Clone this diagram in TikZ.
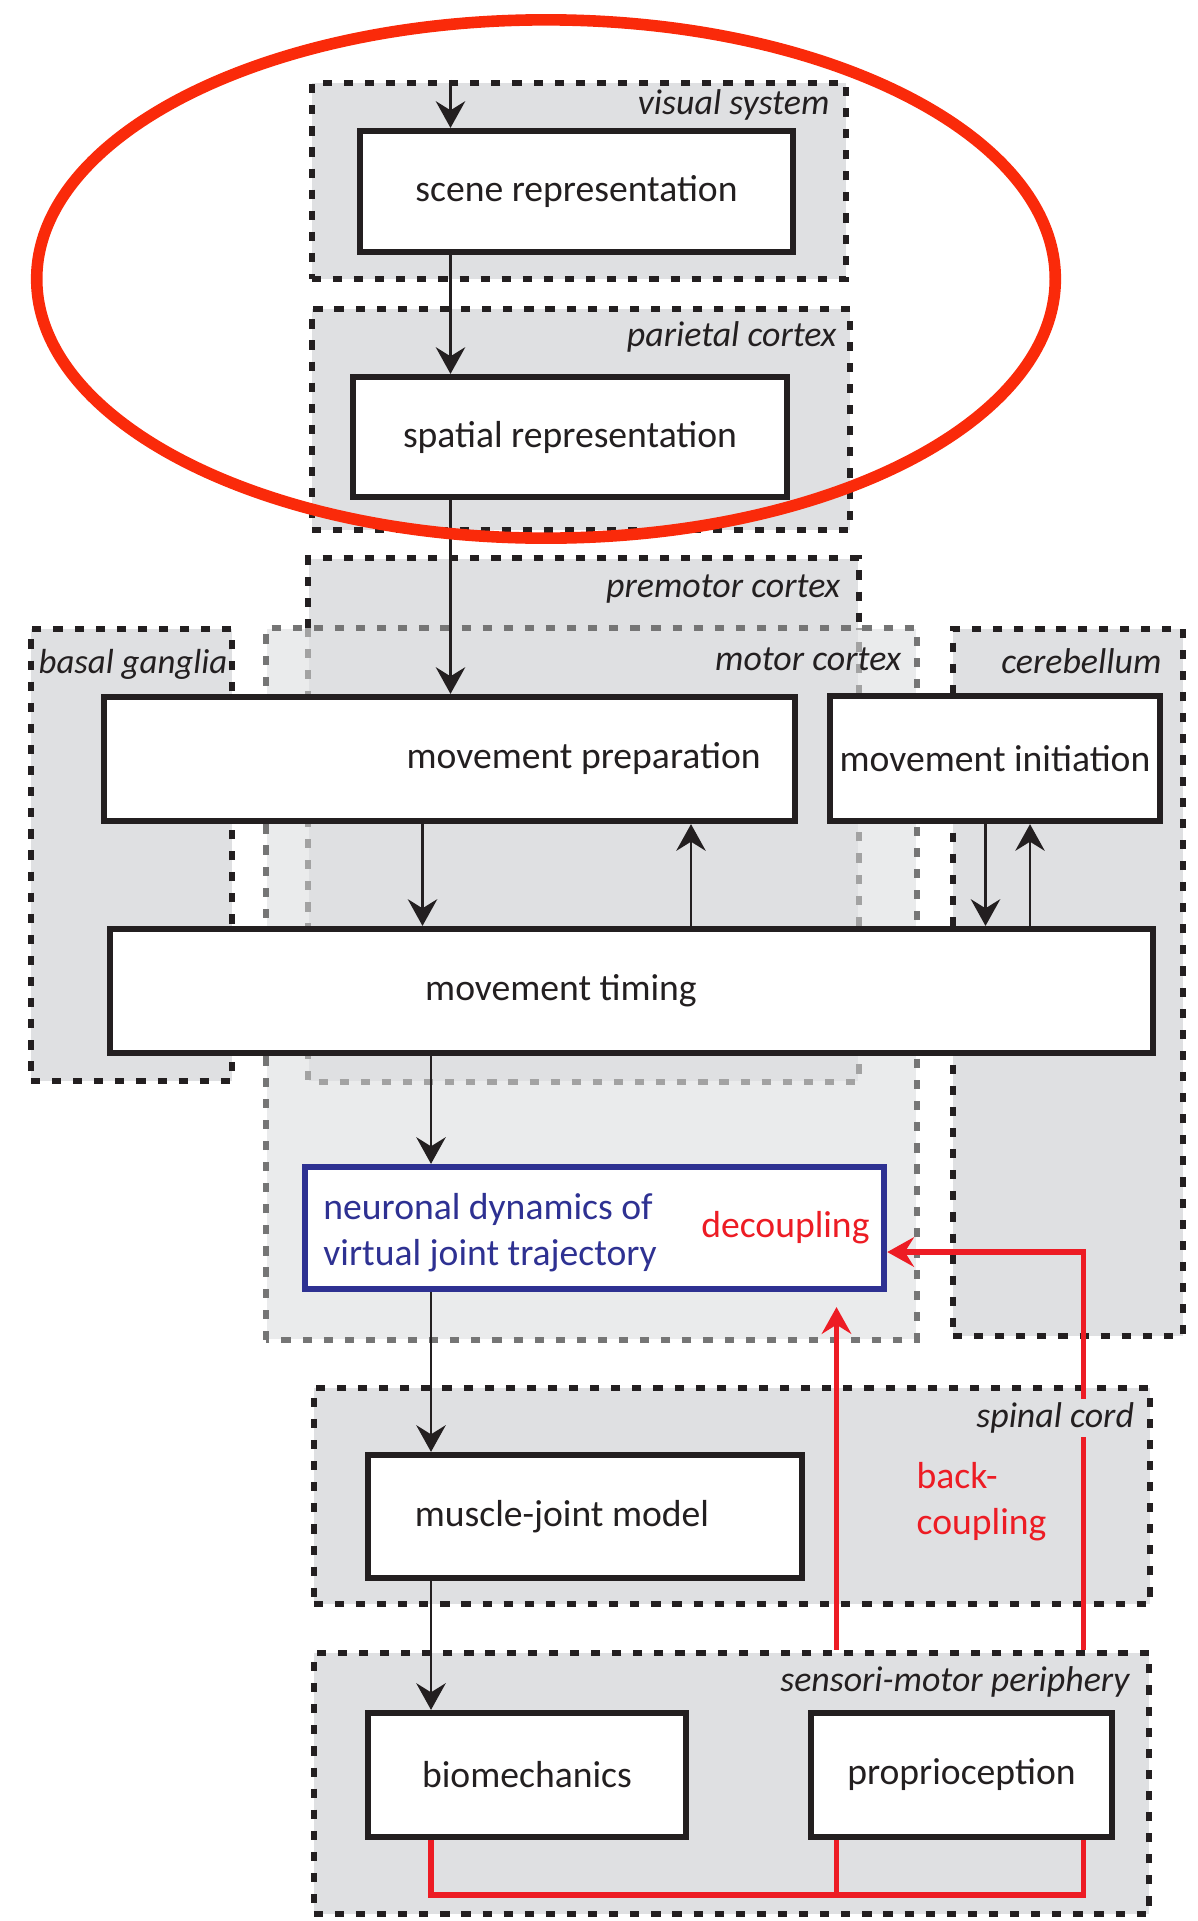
\documentclass[tikz,border=0pt]{standalone}
\usepackage{fontspec}
\setmainfont{Carlito}
\usetikzlibrary{arrows.meta,positioning,calc}
\definecolor{ink}{HTML}{231F20}
\definecolor{regionfill}{HTML}{DFE0E2}
\definecolor{motorfill}{HTML}{EAEBEC}
\definecolor{motorline}{HTML}{757575}
\definecolor{innerline}{HTML}{A2A2A2}
\definecolor{navy}{HTML}{2E3192}
\definecolor{redline}{HTML}{ED1C24}
\definecolor{sketch}{HTML}{FA2A0A}
\tikzset{
  >={Stealth[length=7.6pt,width=8.4pt,inset=2.6pt]},
  flow/.style={->,draw=ink,line width=0.6pt},
  back/.style={draw=redline,line width=1.55pt},
  backarrow/.style={back,->},
  regionbox/.style={draw=ink,fill=regionfill,line width=1.7pt,dash pattern=on 2.6pt off 3.4pt,inner sep=0pt},
  regionline/.style={draw=ink,line width=1.7pt,dash pattern=on 2.6pt off 3.4pt},
  regionlabel/.style={font=\itshape\fontsize{10.2}{12}\selectfont,text=ink,inner sep=0pt},
  block/.style={draw=ink,fill=white,line width=1.75pt,inner sep=0pt,font=\fontsize{10.7}{13.1}\selectfont,text=ink},
  boxtext/.style={font=\fontsize{10.7}{13.1}\selectfont,text=ink,inner sep=0pt},
  redtext/.style={font=\fontsize{10.7}{13.1}\selectfont,text=redline,inner sep=0pt,align=left},
  redmark/.style={draw=sketch,line width=3.3pt},
}

\begin{document}
\begin{tikzpicture}[x=0.01cm,y=-0.01cm]
\useasboundingbox (0,0) rectangle (1198,1921);

% brain regions ---------------------------------------------------------------
\node[regionbox,minimum width=2.01cm,minimum height=4.52cm] (basal) at (131.5,855) {};
\node[regionbox,minimum width=2.30cm,minimum height=7.07cm] (cereb) at (1068,982.5) {};
\node[fill=motorfill,inner sep=0pt,minimum width=6.49cm,minimum height=7.10cm] (motor) at (591.5,984) {};
\node[fill=regionfill,inner sep=0pt,minimum width=5.49cm,minimum height=5.22cm] (premotor) at (583.5,820) {};
\draw[regionline] (premotor.west |- motor.north) -- (premotor.north west) -- (premotor.north east) -- (premotor.east |- motor.north);
\draw[regionline,draw=innerline] (premotor.west |- motor.north) -- (premotor.south west) -- (premotor.south east) -- (premotor.east |- motor.north);
\draw[regionline,draw=motorline] (motor.south west) rectangle (motor.north east);
\node[regionbox,minimum width=5.34cm,minimum height=1.96cm] (vis) at (579,181) {};
\node[regionbox,minimum width=5.38cm,minimum height=2.21cm] (par) at (581,419.5) {};
\node[regionbox,minimum width=8.36cm,minimum height=2.16cm] (spinal) at (732,1496) {};
\node[regionbox,minimum width=8.35cm,minimum height=2.61cm] (periph) at (731.5,1783.5) {};

% processing stages -----------------------------------------------------------
\node[block,minimum width=4.33cm,minimum height=1.21cm] (scene) at (576.5,191.5) {scene representation};
\node[block,minimum width=4.34cm,minimum height=1.20cm] (spatial) at (570,437) {spatial representation};
\node[block,minimum width=6.91cm,minimum height=1.24cm,
  label={[boxtext,anchor=east,xshift=-0.37cm]east:movement preparation}] (prep) at (449.5,759) {};
\node[block,minimum width=3.30cm,minimum height=1.25cm] (init) at (995,758.5) {movement initiation};
\node[block,minimum width=10.43cm,minimum height=1.24cm,
  label={[boxtext,xshift=-0.705cm]center:movement timing}] (timing) at (631.5,991) {};
\node[block,draw=navy,minimum width=5.79cm,minimum height=1.22cm,
  label={[boxtext,text=navy,align=left,anchor=west,xshift=0.21cm,yshift=-0.05cm]west:neuronal dynamics of\\virtual joint trajectory}] (neur) at (594.5,1228) {};
\node[redtext,anchor=east] (decouple) at ([xshift=-0.17cm]neur.east) {decoupling};
\node[block,minimum width=4.34cm,minimum height=1.23cm,
  label={[boxtext,xshift=-0.23cm]center:muscle-joint model}] (muscle) at (585,1516.5) {};
\node[block,minimum width=3.18cm,minimum height=1.24cm] (biomech) at (527,1775) {biomechanics};
\node[block,minimum width=3.01cm,minimum height=1.24cm] (propr) at (961.5,1775) {proprioception};
\node[redtext,anchor=west] (backc) at (916,1502) {back-\\coupling};

% columns of the connectors
\coordinate (c1) at (450.5,0);
\coordinate (c2) at (422.5,0);
\coordinate (c3) at (691,0);
\coordinate (c4) at (985.5,0);
\coordinate (c5) at (1030,0);
\coordinate (c6) at (431,0);
\coordinate (c7) at (836.5,0);
\coordinate (c8) at (1083.5,0);
\coordinate (rbot) at (0,1895);

\draw[flow] (vis.north -| c1) -- (scene.north -| c1);
\draw[flow] (scene.south -| c1) -- (spatial.north -| c1);
\draw[flow] (spatial.south -| c1) -- (prep.north -| c1);
\draw[flow] (prep.south -| c2) -- (timing.north -| c2);
\draw[flow] (timing.north -| c3) -- (prep.south -| c3);
\draw[flow] (init.south -| c4) -- (timing.north -| c4);
\draw[flow] (timing.north -| c5) -- (init.south -| c5);
\draw[flow] (timing.south -| c6) -- (neur.north -| c6);
\draw[flow] (neur.south -| c6) -- (muscle.north -| c6);
\draw[flow] (muscle.south -| c6) -- (biomech.north -| c6);

% sensory back-coupling
\draw[back] (biomech.south -| c6) |- (rbot -| c8) -- (propr.south -| c8);
\draw[back] (rbot -| c7) -- (propr.south -| c7);
\draw[backarrow,shorten >=0.15cm] (periph.north -| c7) -- (neur.south -| c7);
\draw[backarrow] (periph.north -| c8) |- ([yshift=-0.24cm]neur.east);

% region names
\node[regionlabel,anchor=east] (vislabel) at ([xshift=-0.19cm,yshift=-0.25cm]vis.north east) {visual system};
\node[regionlabel,anchor=east] (parlabel) at ([xshift=-0.16cm,yshift=-0.31cm]par.north east) {parietal cortex};
\node[regionlabel,anchor=east] (prelabel) at ([xshift=-0.18cm,yshift=-0.31cm]premotor.north east) {premotor cortex};
\node[regionlabel,anchor=east] (motlabel) at ([xshift=-0.15cm,yshift=-0.31cm]motor.north east) {motor cortex};
\node[regionlabel,anchor=west,font=\itshape\fontsize{9.9}{12}\selectfont] (baslabel) at ([xshift=0.10cm,yshift=-0.38cm]basal.north west) {basal ganglia};
\node[regionlabel,anchor=east] (cerlabel) at ([xshift=-0.24cm,yshift=-0.35cm]cereb.north east) {cerebellum};
\node[regionlabel,anchor=east,fill=regionfill,inner sep=1pt] (spilabel) at ([xshift=-0.15cm,yshift=-0.33cm]spinal.north east) {spinal cord};
\node[regionlabel,anchor=east] (perlabel) at ([xshift=-0.22cm,yshift=-0.32cm]periph.north east) {sensori-motor periphery};

% highlight
\draw[redmark] (546,279) ellipse [x radius=5.09cm,y radius=2.59cm];

\end{tikzpicture}
\end{document}
